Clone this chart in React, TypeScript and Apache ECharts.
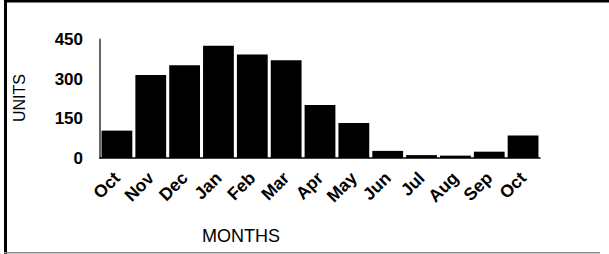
import React, { useEffect, useRef } from "react";
import * as echarts from "echarts";

const categories = ["Oct", "Nov", "Dec", "Jan", "Feb", "Mar", "Apr", "May", "Jun", "Jul", "Aug", "Sep", "Oct "];
const units = [104, 315, 352, 426, 393, 371, 201, 133, 27, 11, 9, 24, 85];
const yTicks = { min: 0, max: 450, interval: 150 };
const xTitle = "MONTHS";
const yTitle = "UNITS";

export default function App() {
  const ref = useRef<HTMLDivElement>(null);
  useEffect(() => {
    const chart = echarts.init(ref.current!, null, { renderer: "svg" });
    chart.setOption({
      animation: false,
      backgroundColor: "#ffffff",
      grid: { left: 100, right: 69, top: 39.5, bottom: 96 },
      xAxis: {
        type: "category",
        data: categories,
        axisLine: { show: true, lineStyle: { color: "#000", width: 1.5 } },
        axisTick: { show: false },
        axisLabel: {
          rotate: 45,
          interval: 0,
          margin: 17,
          fontFamily: "Liberation Sans",
          fontWeight: "bold",
          fontSize: 17.5,
          color: "#000",
          formatter: (v: string) => v.trim(),
        },
      },
      yAxis: {
        type: "value",
        min: yTicks.min,
        max: yTicks.max,
        interval: yTicks.interval,
        splitLine: { show: false },
        axisTick: { show: false },
        axisLine: { show: true, lineStyle: { color: "#666", width: 2 } },
        axisLabel: {
          margin: 17,
          fontFamily: "Liberation Sans",
          fontWeight: "bold",
          fontSize: 17,
          color: "#000",
        },
      },
      series: [
        {
          type: "bar",
          data: units,
          barCategoryGap: "9%",
          itemStyle: { color: "#000" },
        },
      ],
      graphic: [
        { type: "rect", shape: { x: 4, y: 0, width: 3, height: 254 }, style: { fill: "#000" } },
        { type: "rect", shape: { x: 4, y: 0, width: 605, height: 2.5 }, style: { fill: "#000" } },
        { type: "rect", shape: { x: 4, y: 252, width: 596, height: 1.5 }, style: { fill: "#888" } },
        {
          type: "text",
          x: 241,
          y: 236,
          style: { text: xTitle, fontFamily: "Liberation Sans", fontSize: 18, fill: "#000", align: "center", verticalAlign: "middle" },
        },
        {
          type: "text",
          x: 19,
          y: 98,
          rotation: Math.PI / 2,
          style: { text: yTitle, fontFamily: "Liberation Sans", fontSize: 16, fill: "#000", align: "center", verticalAlign: "middle" },
        },
      ],
    });
    return () => chart.dispose();
  }, []);
  return <div ref={ref} style={{ width: 609, height: 254, position: "absolute", left: 0, top: 0 }} />;
}
